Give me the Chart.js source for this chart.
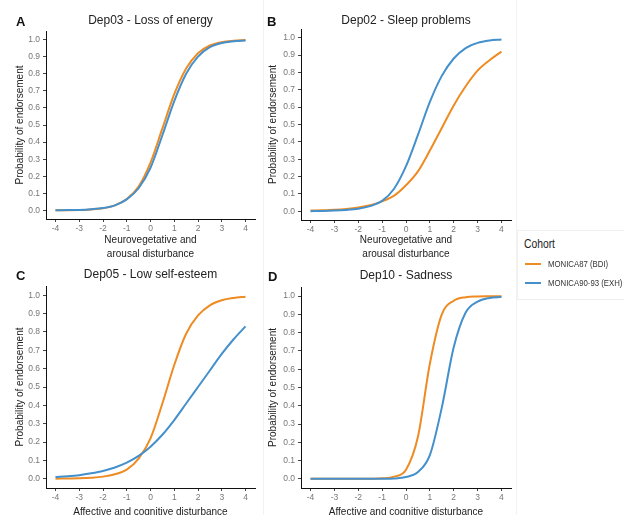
<!DOCTYPE html>
<html>
<head>
<meta charset="utf-8">
<script src="https://cdn.jsdelivr.net/npm/chart.js@4"></script>
<style>
  body { margin: 0; width: 624px; height: 515px; overflow: hidden; background: #fff; position: relative;
         font-family: 'Liberation Sans', Arial, sans-serif; }
  canvas { position: absolute; }
  .letter { position: absolute; font: bold 13px 'Liberation Sans', Arial, sans-serif; color: #111; line-height: 1; }
  .sep { position: absolute; top: 0; width: 1px; height: 515px; background: #f2f2f2; }
  #legend { position: absolute; left: 517px; top: 230px; width: 107px; height: 68px;
            border-top: 1px solid #eee; border-bottom: 1px solid #eee; border-left: 1px solid #f2f2f2; }
  #legend .ttl { position: absolute; left: 6px; top: 6px; font-size: 12px; color: #222;
                 transform: scaleX(0.86); transform-origin: left center; }
  #legend .item { position: absolute; left: 6px; height: 12px; font-size: 9.5px; color: #333; white-space: nowrap; }
  #legend .item span.sw { position: absolute; left: 1px; top: 5px; width: 16px; height: 2px; }
  #legend .item span.lb { position: absolute; left: 24px; top: 0; line-height: 12px;
                          transform: scaleX(0.82); transform-origin: left center; }
</style>
</head>
<body>
<div class="sep" style="left:263px"></div>
<div class="sep" style="left:516px"></div>

<canvas id="chartA" width="262" height="264" style="left:0;top:0"></canvas>
<canvas id="chartB" width="254" height="264" style="left:262px;top:0"></canvas>
<canvas id="chartC" width="262" height="265" style="left:0;top:258px"></canvas>
<canvas id="chartD" width="254" height="265" style="left:262px;top:258px"></canvas>

<div class="letter" style="left:16px;top:15px">A</div>
<div class="letter" style="left:267px;top:15px">B</div>
<div class="letter" style="left:16px;top:269px">C</div>
<div class="letter" style="left:268px;top:270px">D</div>

<div id="legend">
  <div class="ttl">Cohort</div>
  <div class="item" style="top:27px"><span class="sw" style="background:#EE8B22"></span><span class="lb">MONICA87 (BDI)</span></div>
  <div class="item" style="top:46px"><span class="sw" style="background:#4490CC"></span><span class="lb">MONICA90-93 (EXH)</span></div>
</div>

<script>
// latent trait values where the curves were read
const xValues = [-4, -3.5, -3, -2.5, -2, -1.5, -1, -0.5, 0, 0.5, 1, 1.5, 2, 2.5, 3, 3.5, 4];
const xTicks = [-4, -3, -2, -1, 0, 1, 2, 3, 4];
const yTicks = [0, 0.1, 0.2, 0.3, 0.4, 0.5, 0.6, 0.7, 0.8, 0.9, 1.0];

const cohortNames = ['MONICA87 (BDI)', 'MONICA90-93 (EXH)'];
const orange = '#EE8B22';
const blue = '#4490CC';

// Dep03 - Loss of energy
const dep03_87 = [0.0005, 0.001, 0.002, 0.006, 0.013, 0.03, 0.067, 0.14, 0.28, 0.48, 0.68, 0.83, 0.92, 0.965, 0.985, 0.993, 0.997];
const dep03_90 = [0.001, 0.002, 0.003, 0.007, 0.014, 0.03, 0.065, 0.13, 0.25, 0.44, 0.64, 0.8, 0.9, 0.955, 0.98, 0.99, 0.995];
// Dep02 - Sleep problems
const dep02_87 = [0.004, 0.006, 0.009, 0.014, 0.022, 0.035, 0.057, 0.09, 0.15, 0.23, 0.35, 0.48, 0.61, 0.72, 0.81, 0.87, 0.92];
const dep02_90 = [0.001, 0.002, 0.004, 0.008, 0.015, 0.03, 0.06, 0.13, 0.26, 0.44, 0.63, 0.78, 0.88, 0.94, 0.97, 0.984, 0.99];
// Dep05 - Low self-esteem
const dep05_87 = [0.001, 0.002, 0.003, 0.006, 0.012, 0.025, 0.05, 0.11, 0.22, 0.41, 0.62, 0.79, 0.89, 0.945, 0.972, 0.985, 0.992];
const dep05_90 = [0.01, 0.014, 0.02, 0.03, 0.043, 0.062, 0.088, 0.125, 0.175, 0.24, 0.32, 0.41, 0.5, 0.59, 0.68, 0.76, 0.83];
// Dep10 - Sadness
const dep10_87 = [0, 0, 0, 0.0001, 0.0003, 0.001, 0.003, 0.012, 0.05, 0.23, 0.63, 0.9, 0.975, 0.994, 0.998, 0.999, 1.0];
const dep10_90 = [0, 0, 0, 0, 0.0001, 0.0002, 0.0005, 0.002, 0.01, 0.037, 0.13, 0.39, 0.72, 0.91, 0.97, 0.99, 0.996];

const fontFam = "'Liberation Sans', Arial, sans-serif";

function points(arr) {
  return xValues.map((x, i) => ({ x: x, y: arr[i] }));
}

function makePanel(id, title, xTitle, s87, s90, box) {
  const ctx = document.getElementById(id).getContext('2d');
  return new Chart(ctx, {
    type: 'line',
    data: {
      datasets: [
        { label: cohortNames[1], data: points(s90), borderColor: blue, borderWidth: 2,
          pointRadius: 0, cubicInterpolationMode: 'monotone', fill: false },
        { label: cohortNames[0], data: points(s87), borderColor: orange, borderWidth: 2,
          pointRadius: 0, cubicInterpolationMode: 'monotone', fill: false }
      ]
    },
    options: {
      responsive: false,
      animation: false,
      devicePixelRatio: 1,
      layout: { padding: { left: 0, top: 0, right: box.right, bottom: 0 } },
      plugins: {
        legend: { display: false },
        tooltip: { enabled: false },
        title: {
          display: true,
          text: title,
          fullSize: false,
          color: '#222',
          font: { family: fontFam, size: 12, weight: 'normal', lineHeight: 1.2 },
          padding: { top: box.titleTop, bottom: box.titleBottom }
        }
      },
      scales: {
        x: {
          type: 'linear',
          min: -4.4,
          max: 4.4,
          afterBuildTicks: s => { s.ticks = xTicks.map(v => ({ value: v })); },
          afterFit: s => { s.height = box.xHeight; },
          border: { display: true, color: '#111', width: 1 },
          grid: { drawOnChartArea: false, drawTicks: true, tickLength: 3, color: '#444' },
          ticks: { color: '#777', padding: 2, font: { family: fontFam, size: 8.5 } },
          title: {
            display: true,
            text: xTitle,
            color: '#222',
            font: { family: fontFam, size: 10, lineHeight: 1.4 },
            padding: { top: 0, bottom: box.xTitlePad }
          }
        },
        y: {
          type: 'linear',
          min: -0.05,
          max: 1.05,
          afterBuildTicks: s => { s.ticks = yTicks.map(v => ({ value: v })); },
          afterFit: s => { s.width = box.left; },
          border: { display: true, color: '#111', width: 1 },
          grid: { drawOnChartArea: false, drawTicks: true, tickLength: 3, color: '#444' },
          ticks: { color: '#777', padding: 3, font: { family: fontFam, size: 8.5 },
                   callback: v => v.toFixed(1) },
          title: {
            display: true,
            text: 'Probability of endorsement',
            color: '#222',
            font: { family: fontFam, size: 10, lineHeight: 1.3 },
            padding: { top: box.yTitlePad, bottom: 0 }
          }
        }
      }
    }
  });
}

makePanel('chartA', 'Dep03 - Loss of energy', ['Neurovegetative and', 'arousal disturbance'],
  dep03_87, dep03_90, { left: 46, right: 7, xHeight: 45, titleTop: 13.8, titleBottom: 2.8, yTitlePad: 13.5, xTitlePad: 3 });
makePanel('chartB', 'Dep02 - Sleep problems', ['Neurovegetative and', 'arousal disturbance'],
  dep02_87, dep02_90, { left: 39, right: 5, xHeight: 44, titleTop: 13.8, titleBottom: 0.8, yTitlePad: 4.5, xTitlePad: 3 });
makePanel('chartC', 'Dep05 - Low self-esteem', 'Affective and cognitive disturbance',
  dep05_87, dep05_90, { left: 46, right: 7, xHeight: 35, titleTop: 9.8, titleBottom: 3.8, yTitlePad: 13.5, xTitlePad: 4 });
makePanel('chartD', 'Dep10 - Sadness', 'Affective and cognitive disturbance',
  dep10_87, dep10_90, { left: 39, right: 5, xHeight: 35, titleTop: 10.8, titleBottom: 3.8, yTitlePad: 4.5, xTitlePad: 4 });
</script>
</body>
</html>
